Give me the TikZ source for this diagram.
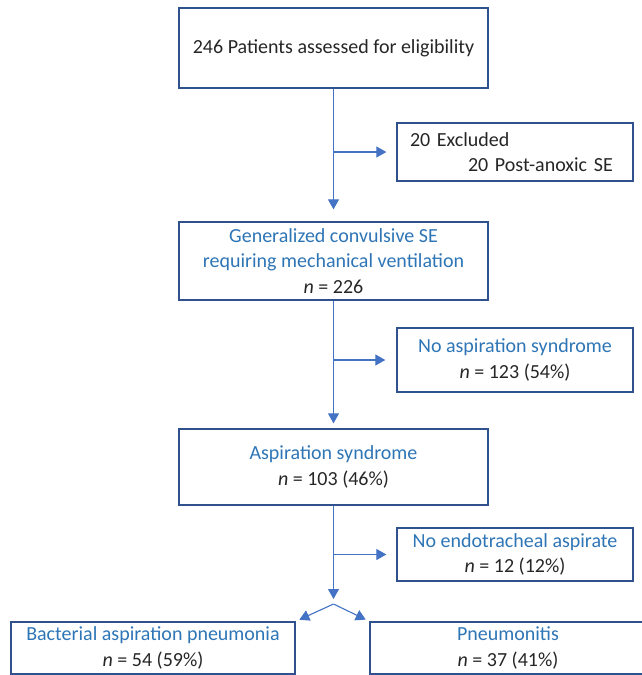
\documentclass[tikz,border=0pt]{standalone}
\usepackage{fontspec}
\setmainfont{Carlito}
\usetikzlibrary{arrows.meta}
\definecolor{boxblue}{HTML}{2F528F}
\definecolor{txtblue}{HTML}{2E75B6}
\definecolor{arrblue}{HTML}{4472C4}

\begin{document}
\begin{tikzpicture}[x=1pt,y=-1pt,font=\fontsize{20}{25.5}\selectfont,
  box/.style={draw=boxblue,line width=1.3pt,align=center,inner sep=0pt,text=black!85},
  arr/.style={draw=arrblue,line width=1.1pt,-{Triangle[length=10pt,width=11pt]},arrblue}]
  \useasboundingbox (0,0) rectangle (642,675);

  \node[box,minimum width=309pt,minimum height=80pt] (all)   at (333.5,48)  {246 Patients assessed for eligibility};
  \node[box,minimum height=58pt,align=left,text width=210pt,inner xsep=13pt]
                                                     (exc)   at (515,152)   {20 Excluded\\\hspace*{58pt}20 Post-anoxic SE};
  \node[box,minimum width=309pt,minimum height=78pt] (gcse)  at (333.5,261) {\textcolor{txtblue}{Generalized convulsive SE}\\\textcolor{txtblue}{requiring mechanical ventilation}\\\textit{n} = 226};
  \node[box,minimum width=236pt,minimum height=64pt] (noasp) at (515,360)   {\textcolor{txtblue}{No aspiration syndrome}\\\textit{n} = 123 (54\%)};
  \node[box,minimum width=309pt,minimum height=76pt] (asp)   at (333.5,467) {\textcolor{txtblue}{Aspiration syndrome}\\\textit{n} = 103 (46\%)};
  \node[box,minimum width=236pt,minimum height=53pt] (noeta) at (515,554.5) {\textcolor{txtblue}{No endotracheal aspirate}\\\textit{n} = 12 (12\%)};
  \node[box,minimum width=284pt,minimum height=52pt] (bap)   at (153,648)   {\textcolor{txtblue}{Bacterial aspiration pneumonia}\\\textit{n} = 54 (59\%)};
  \node[box,minimum width=276pt,minimum height=52pt] (pneu)  at (508,648)   {\textcolor{txtblue}{Pneumonitis}\\\textit{n} = 37 (41\%)};
  \coordinate (split) at (333.5,604);

  % main column
  \draw[arr,shorten >=12pt] (all) -- (gcse);
  \draw[arr,shorten >=5pt]  (gcse) -- (asp);
  \draw[arr,shorten >=5pt]  (asp.south) -- (split);
  % side branches
  \draw[arr,shorten >=10pt] (all.south |- exc) -- (exc.west);
  \draw[arr,shorten >=11pt] (gcse.south |- noasp) -- (noasp.west);
  \draw[arr,shorten >=10pt] (asp.south |- noeta) -- (noeta.west);
  % split
  \draw[arr,shorten >=4pt]  (split) -- (bap.north east);
  \draw[arr,shorten >=4pt]  (split) -- (pneu.north west);
\end{tikzpicture}
\end{document}
